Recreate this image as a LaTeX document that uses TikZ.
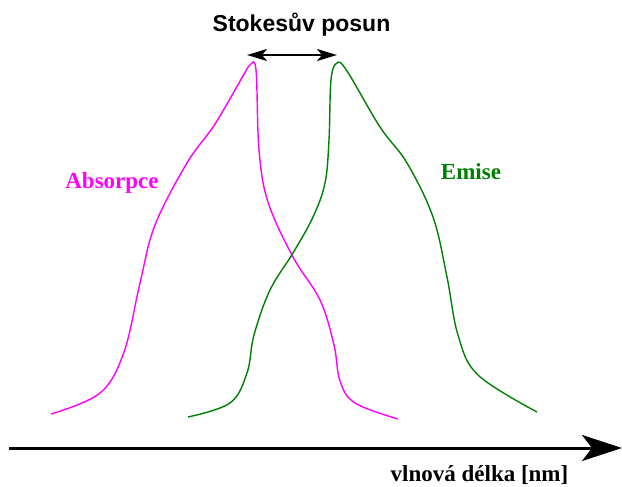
\documentclass[tikz,border=0pt]{standalone}
\usepackage{fontspec}
\setmainfont{Liberation Serif}
\newfontfamily\arialb{Liberation Sans}[BoldFont={* Bold}]
\usetikzlibrary{arrows.meta}
\definecolor{absc}{RGB}{255,0,255}
\definecolor{emic}{RGB}{0,128,0}
\tikzset{
  lbl/.style={anchor=base, inner sep=0pt, font=\fontsize{23}{26}\selectfont\bfseries},
  curve/.style={line width=1.4pt, smooth, tension=0.6}
}
\begin{document}
\begin{tikzpicture}[x=1pt,y=-1pt]
\useasboundingbox (0,0) rectangle (622,487);
% axis
\coordinate (ax0) at (9,448);
\coordinate (ax1) at (622,448);
\draw[line width=3pt, -{Stealth[length=40pt,width=26pt,inset=10pt]}] (ax0) -- (ax1);
% Stokes shift arrow
\coordinate (s0) at (247,55);
\coordinate (s1) at (337,55);
\draw[line width=2pt, {Stealth[length=20pt,width=12pt,inset=5pt]}-{Stealth[length=20pt,width=12pt,inset=5pt]}] (s0) -- (s1);
% absorption
\draw[absc, curve] plot coordinates {(51,414) (100,393) (124,352) (140,283) (155,225) (187,163) (215,124) (243,76) (250,65) (256,70) (259,150) (268,202) (293,257) (320,300) (334,345) (340,381) (355,403) (398,419)};
% emission
\draw[emic, curve] plot coordinates {(188,417) (230,403) (247,373) (254,335) (270,290) (293,253) (313,217) (325,183) (329,140) (331,80) (337,63) (347,71) (380,127) (407,163) (433,217) (447,277) (458,335) (478,375) (537,412)};
% labels
\node[lbl, font=\arialb\fontsize{23}{26}\selectfont\bfseries] (stokes) at (301.5,32) {Stokesův posun};
\node[lbl, text=absc] (abs) at (112,189) {Absorpce};
\node[lbl, text=emic] (emi) at (471,179) {Emise};
\node[lbl] (xlab) at (479.5,481.5) {vlnová délka [nm]};
\end{tikzpicture}
\end{document}
